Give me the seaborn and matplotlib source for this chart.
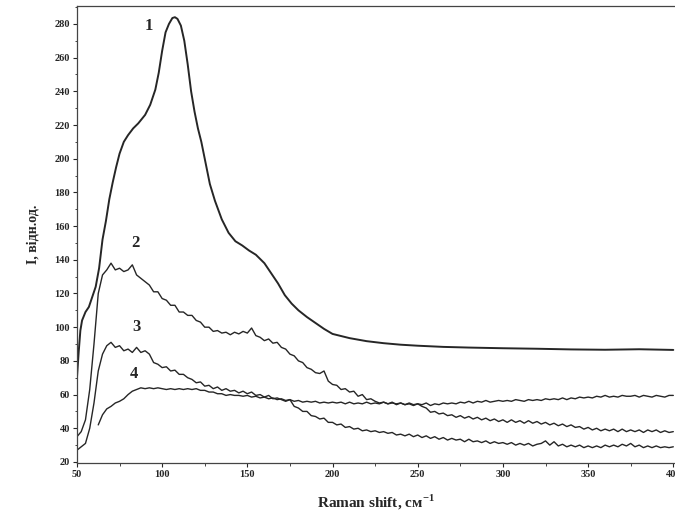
import numpy as np
import pandas as pd
import seaborn as sns
import matplotlib.pyplot as plt
from matplotlib.ticker import MultipleLocator

# curve 1 (smooth)
shift_1 = [50, 51, 52, 53, 55, 57, 59, 61, 63, 65, 67, 69, 71, 73, 75, 77.5, 80, 83,
           86, 90, 93, 96, 98, 100, 102, 104, 106, 107.5, 109, 111, 113, 115, 117,
           119, 121, 123, 125, 128, 131, 135, 139, 143, 147, 151, 155, 160, 164, 168,
           172, 176, 180, 185, 190, 195, 200, 210, 220, 230, 240, 250, 265, 280, 300,
           320, 340, 360, 380, 400]
inten_1 = [70, 85, 98, 104, 109, 112, 118, 124, 135, 152, 163, 176, 186, 195, 203, 210,
           214, 218, 221, 226, 232, 241, 251, 264, 275, 280, 283.5, 284, 283, 279, 270,
           256, 240, 228, 218, 210, 200, 185, 175, 164, 156, 151, 148.5, 145.5, 143,
           138, 132, 126, 119, 114, 110, 106, 102.5, 99, 96, 93.5, 91.7, 90.5, 89.6,
           89, 88.3, 87.9, 87.5, 87.2, 86.8, 86.6, 86.9, 86.5]

# noisy curves 2-4, sampled every 2.5 cm-1 from 50 to 400
shift_n = np.arange(50, 400.1, 2.5)
inten_2 = [35, 38, 45, 63, 90, 120, 131, 134, 138, 134,
           135, 133, 134, 137, 131, 129, 127, 125, 121, 121,
           117, 116, 113, 113, 109, 109, 107, 107, 104, 103,
           100, 100, 97.5, 98, 96.5, 97, 95.5, 97, 96, 97.5,
           96.5, 99.5, 95, 94, 92, 93, 90.5, 91, 88, 87,
           84, 83, 80, 79, 76, 75, 73, 72.5, 74, 68,
           66, 65.5, 63, 63.5, 61.5, 62, 59, 60, 57, 57.5,
           56, 55, 55.5, 54.5, 55.5, 54, 55, 54, 54.5, 53.5,
           54.5, 53, 52, 49.5, 50, 48.5, 49, 47.5, 48, 46.5,
           47.5, 46, 47, 45.5, 46.5, 45, 46, 44.5, 45.5, 44,
           45, 43.5, 45, 43.5, 44.5, 43, 44.5, 43, 44, 42.5,
           43.5, 42, 43, 41.5, 42.5, 41, 42, 40.5, 41, 39.5,
           40.5, 39, 40, 38.5, 39.5, 38.5, 39.5, 38, 39.5, 38,
           39, 38, 39, 37.5, 39, 38, 39, 37.5, 38.5, 37.5,
           38]
inten_3 = [27, 29, 31, 40, 55, 74, 84, 89, 91, 88,
           89, 86, 87, 85, 88, 85, 86, 84, 79, 78,
           76, 76.5, 74, 74.5, 72, 72, 70, 69, 67, 67.5,
           65, 65.5, 63.5, 64.5, 62.5, 63.5, 62, 62.5, 61, 62,
           60.5, 61.5, 59.5, 60, 58.5, 59.5, 57.5, 58, 57, 56,
           57, 53, 52, 50, 50, 47.5, 47, 45.5, 46, 43.5,
           43.5, 42, 42.5, 40.5, 41, 39.5, 40, 38.5, 39, 38,
           38.5, 37.5, 38, 37, 37.5, 36, 36.5, 35.5, 36.5, 35,
           36, 34.5, 35.5, 34, 35, 33.5, 34.5, 33, 34, 33,
           33.5, 32, 33.5, 32, 32.5, 31.5, 32.5, 31, 32, 31,
           31.5, 30.5, 31.5, 30, 31, 30, 31, 29.5, 30.5, 31,
           32.5, 30, 32, 29.5, 30.5, 29, 30, 29, 30, 28.5,
           29.5, 28.5, 29.5, 28.5, 30, 29, 30, 29, 30.5, 29.5,
           31, 29, 30, 28.5, 29.5, 28.5, 29.5, 28.5, 29, 28.5,
           29]
inten_4 = [np.nan, np.nan, np.nan, np.nan, np.nan, 42, 48, 51.5, 53, 55,
           56, 57.5, 60, 62, 63, 64, 63.5, 64, 63.5, 64,
           63.5, 63, 63.5, 63, 63.5, 63, 63.5, 63, 63.5, 62.5,
           62.5, 61.5, 61.5, 60.5, 60.5, 59.5, 60, 59.5, 59.5, 59,
           59.5, 58.5, 59, 58, 58.5, 57.5, 58, 57, 57.5, 56.5,
           57, 56, 56.5, 55.5, 56, 55.5, 56, 55, 55.5, 55,
           55.5, 55, 55.5, 54.5, 55.5, 54.5, 55, 54.5, 55.5, 54.5,
           55, 54.5, 55.5, 54.5, 55, 54.5, 55, 54, 55, 54,
           54.5, 54, 55, 53.5, 54.5, 54, 55, 54.5, 55, 54.5,
           55.5, 55, 56, 55, 56, 55.5, 56.5, 55.5, 56, 56.5,
           56, 56.5, 56, 57, 56.5, 56, 57, 56.5, 57, 56.5,
           57.5, 57, 57.5, 57, 58, 57, 58, 57.5, 58.5, 58,
           58.5, 58, 59, 58.5, 59.5, 58.5, 59, 58.5, 59.5, 59,
           59, 59.5, 58.5, 59.5, 59, 58.5, 59.5, 59, 58.5, 59.5,
           59.5]

curve_labels = ['1', '2', '3', '4']
label_x = [92, 84.5, 85, 83.5]
label_y = [279, 150, 100, 72]

sns.set_style("ticks")
plt.rcParams['font.family'] = ['Liberation Serif', 'DejaVu Serif']
plt.rcParams['mathtext.fontset'] = 'custom'
plt.rcParams['mathtext.rm'] = 'Liberation Serif'

fig = plt.figure(figsize=(6.75, 5.2), dpi=100)
ax = fig.add_axes([0.114, 0.110, 0.886, 0.878])

ink = '#262626'
sns.lineplot(x=shift_1, y=inten_1, ax=ax, color=ink, linewidth=1.4,
             estimator=None, sort=False)
for vals in (inten_2, inten_3, inten_4):
    df = pd.DataFrame({'shift': shift_n, 'I': vals}).dropna()
    sns.lineplot(data=df, x='shift', y='I', ax=ax, color=ink, linewidth=1.0,
                 estimator=None, sort=False)

for lab, tx, ty in zip(curve_labels, label_x, label_y):
    ax.text(tx, ty, lab, ha='center', va='center', fontsize=12,
            fontweight='bold', color=ink)

ax.set_xlim(50, 401)
ax.set_ylim(19.5, 290.5)
ax.xaxis.set_major_locator(MultipleLocator(50))
ax.xaxis.set_minor_locator(MultipleLocator(25))
ax.yaxis.set_major_locator(MultipleLocator(20))
ax.yaxis.set_minor_locator(MultipleLocator(10))
ax.tick_params(which='major', direction='out', length=3, width=0.8,
               labelsize=7.5, pad=2, colors=ink)
ax.tick_params(which='minor', direction='out', length=1.8, width=0.6, colors=ink)
for t in ax.get_xticklabels() + ax.get_yticklabels():
    t.set_fontweight('bold')
ax.spines['right'].set_visible(False)
for s in ('left', 'bottom', 'top'):
    ax.spines[s].set_color('#444444')
    ax.spines[s].set_linewidth(0.9)

ax.set_xlabel('Raman shift, см$^{\\mathregular{-1}}$', fontsize=11,
              fontweight='bold', color=ink, labelpad=10)
ax.set_ylabel('I, відн.од.', fontsize=10, fontweight='bold', color=ink, labelpad=11)

plt.savefig('out.png', dpi=100)
